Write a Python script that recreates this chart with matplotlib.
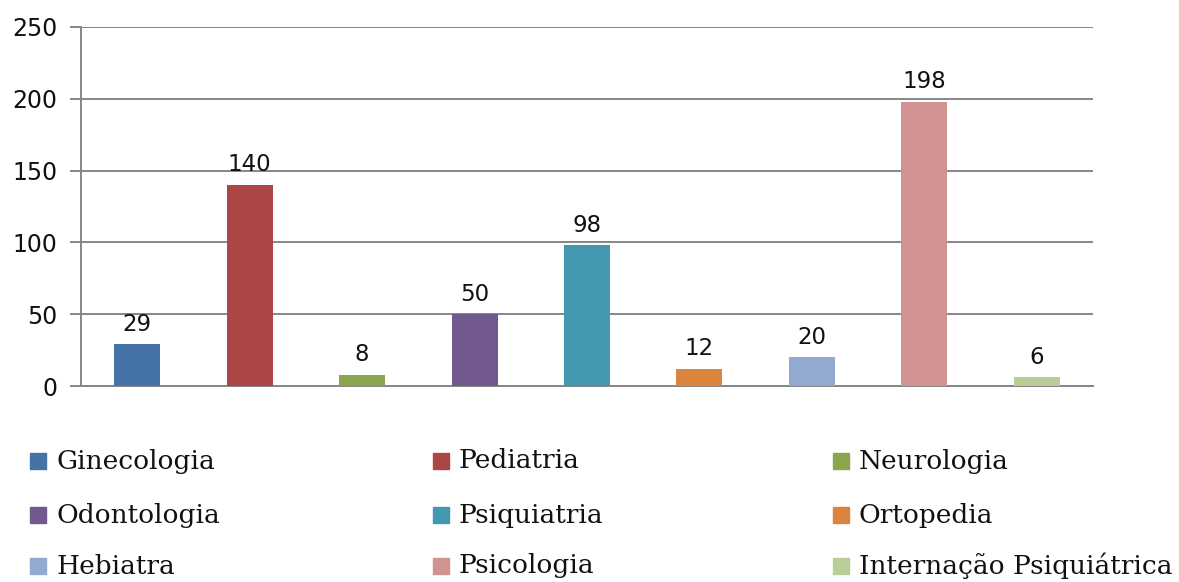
import matplotlib
matplotlib.use("Agg")
import matplotlib.pyplot as plt
from matplotlib.patches import Rectangle

categories = ["Ginecologia", "Pediatria", "Neurologia", "Odontologia", "Psiquiatria",
              "Ortopedia", "Hebiatra", "Psicologia", "Internação Psiquiátrica"]
values = [29, 140, 8, 50, 98, 12, 20, 198, 6]
colors = ["#4572A7", "#AA4643", "#89A54E", "#71588F", "#4198AF",
          "#DB843D", "#93A9CF", "#D19392", "#B9CD96"]
yticks = [0, 50, 100, 150, 200, 250]

fig = plt.figure(figsize=(11.79, 5.82), dpi=100)
ax = fig.add_axes([81/1179, 1-386/582, (1093-81)/1179, (386-27)/582])

x = list(range(len(values)))
bars = ax.bar(x, values, width=0.41, color=colors, zorder=3)
for xi, v in zip(x, values):
    ax.text(xi, v + 6, str(v), ha="center", va="bottom", fontsize=16.5,
            family="DejaVu Sans", color="#111111")

ax.set_xlim(-0.5, len(values) - 0.5)
ax.set_ylim(0, 250)
ax.set_yticks(yticks)
ax.set_yticklabels([str(t) for t in yticks], fontsize=17, family="DejaVu Sans", color="#111111")
ax.set_xticks([])
ax.yaxis.grid(True, color="#868686", linewidth=1.4, zorder=0)
for s in ["top", "right"]:
    ax.spines[s].set_visible(False)
for s in ["left", "bottom"]:
    ax.spines[s].set_color("#868686")
    ax.spines[s].set_linewidth(1.4)
ax.tick_params(axis="y", length=8, width=1.4, color="#868686", pad=9)

# legend: 3 columns, row-major order
col_x = [30, 433, 833]
row_y = [461, 515, 566]
sq = 16
for i, (lab, c) in enumerate(zip(categories, colors)):
    r, cidx = divmod(i, 3)
    px, py = col_x[cidx], row_y[r]
    fig.patches.append(Rectangle((px/1179, 1-(py+sq/2)/582), sq/1179, sq/582,
                                 transform=fig.transFigure, color=c, figure=fig))
    fig.text((px + sq + 10)/1179, 1-py/582, lab, fontsize=19, family="DejaVu Serif",
             va="center", ha="left", color="#111111")

fig.savefig("out.png", dpi=100)
